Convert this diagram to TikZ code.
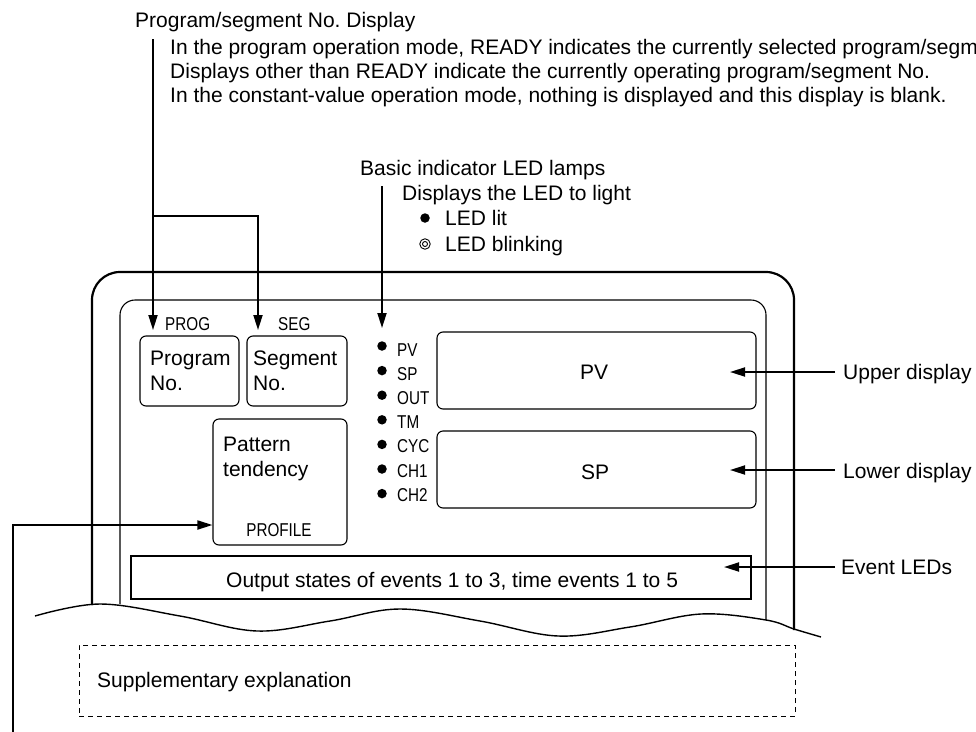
\documentclass[tikz,border=0pt]{standalone}
\usepackage{fontspec}
\setmainfont{Liberation Sans}
\newfontfamily\narrowfont[FakeStretch=0.82]{Liberation Sans}
\usetikzlibrary{arrows.meta}
\frenchspacing
\begin{document}
\begin{tikzpicture}[x=1pt,y=-1pt,
  txt/.style={anchor=base west, inner sep=0pt, font=\fontsize{21}{25}\selectfont},
  ntxt/.style={anchor=base west, inner sep=0pt, font=\narrowfont\fontsize{18.6}{22}\selectfont},
  conn/.style={line width=1.8pt},
  arr/.style={conn, -{Triangle[length=15pt,width=9pt]}},
  box/.style={draw, line width=1.1pt, rounded corners=6pt, inner sep=0pt},
  ledd/.style={circle, fill, inner sep=0pt, minimum size=9.5pt},
  ring/.style={circle, draw, line width=0.9pt, inner sep=0pt}]
\useasboundingbox (0,0) rectangle (976,731);

% ---- top explanation texts
\node[txt] (pstitle) at (135,27) {Program/segment No. Display};
\node[txt] (ps1) at (170,54) {In the program operation mode, READY indicates the currently selected program/segment No.};
\node[txt] (ps2) at (170,78) {Displays other than READY indicate the currently operating program/segment No.};
\node[txt] (ps3) at (170,102) {In the constant-value operation mode, nothing is displayed and this display is blank.};

\node[txt] (ledtitle) at (360,175) {Basic indicator LED lamps};
\node[txt] (ledsub) at (402,200) {Displays the LED to light};
\node[ledd] (litdot) at (425,218) {};
\node[txt] (lit) at (445,225) {LED lit};
\node[ring, minimum size=10.5pt] (blinkdot) at (425,244) {};
\node[ring, minimum size=5pt] (blinkin) at (425,244) {};
\node[txt] (blink) at (445,251) {LED blinking};

% ---- panel outline
\draw[line width=2.2pt, rounded corners=28pt] (92,605) -- (92,272) -- (794,272) -- (794,630);
\draw[line width=1.1pt, rounded corners=15pt] (120,604) -- (120,300) -- (766,300) -- (766,620);
\draw[line width=1.4pt] plot[smooth, tension=0.6] coordinates {(35,616) (100,604) (180,616) (257,631) (330,621) (400,609) (480,621) (558,636) (630,627) (701,614) (766,620) (794,629) (821,637)};

% ---- program / segment boxes
\node[ntxt] (proglbl) at (165,330) {PROG};
\node[ntxt] (seglbl) at (278,330) {SEG};
\node[box, minimum width=99pt, minimum height=70pt] (prog) at (189.5,371) {};
\node[box, minimum width=100pt, minimum height=70pt] (seg) at (297,371) {};
\node[txt] (progt1) at (150,365) {Program};
\node[txt] (progt2) at (150,390) {No.};
\node[txt] (segt1) at (253,365) {Segment};
\node[txt] (segt2) at (253,390) {No.};

\node[box, minimum width=134pt, minimum height=126pt] (pat) at (280,482) {};
\node[txt] (patt1) at (223,451) {Pattern};
\node[txt] (patt2) at (223,476) {tendency};
\node[anchor=base, inner sep=0pt, font=\narrowfont\fontsize{18.6}{22}\selectfont] (profile) at (279,536) {PROFILE};

% ---- LED lamps
\foreach \t [count=\i from 0] in {PV,SP,OUT,TM,CYC,CH1,CH2} {
  \node[ledd] (led\i) at (382,{346+24.6*\i}) {};
  \node[ntxt] (ledl\i) at (397,{356+24.2*\i}) {\t};
}

% ---- displays
\node[box, minimum width=319pt, minimum height=77pt] (pvbox) at (596.5,370.5) {};
\node[box, minimum width=319pt, minimum height=77pt] (spbox) at (596.5,469.5) {};
\node[inner sep=0pt, font=\fontsize{21}{25}\selectfont] (pvtxt) at (594,372) {PV};
\node[inner sep=0pt, font=\fontsize{21}{25}\selectfont] (sptxt) at (595,472) {SP};

% ---- event box
\node[draw, line width=1.4pt, inner sep=0pt, minimum width=620pt, minimum height=43pt] (evbox) at (441,577.5) {};
\node[txt] (evtxt) at (226,587) {Output states of events 1 to 3, time events 1 to 5};

% ---- right labels
\node[txt] (upper) at (843,379) {Upper display};
\node[txt] (lower) at (843,478) {Lower display};
\node[txt] (evleds) at (841,574) {Event LEDs};

% ---- supplementary box
\node[draw, line width=1pt, dash pattern=on 5pt off 4pt, inner sep=0pt, minimum width=716pt, minimum height=71pt] (supbox) at (437,680.5) {};
\node[txt] (suptxt) at (97,687) {Supplementary explanation};

% ---- connector coordinates
\coordinate (psTop) at (153,39);
\coordinate (psBranch) at (153,216);
\coordinate (segCorner) at (258,216);
\coordinate (progTip) at (153,330);
\coordinate (segTip) at (258,330);
\coordinate (ledTop) at (382,186);
\coordinate (ledTip) at (382,328);
\coordinate (upStart) at (835,372);
\coordinate (upTip) at (730,372);
\coordinate (lowStart) at (835,470);
\coordinate (lowTip) at (730,470);
\coordinate (evStart) at (835,567);
\coordinate (evTip) at (724,567);
\coordinate (pfBottom) at (13,732);
\coordinate (pfCorner) at (13,525);

% ---- connectors
\draw[arr] (psTop) -- (progTip);
\draw[arr] (psBranch) -- (segCorner) -- (segTip);
\draw[arr] (ledTop) -- (ledTip);
\draw[arr] (upStart) -- (upTip);
\draw[arr] (lowStart) -- (lowTip);
\draw[arr] (evStart) -- (evTip);
\draw[arr] (pfBottom) -- (pfCorner) -- (pat.west |- pfCorner);
\end{tikzpicture}
\end{document}
